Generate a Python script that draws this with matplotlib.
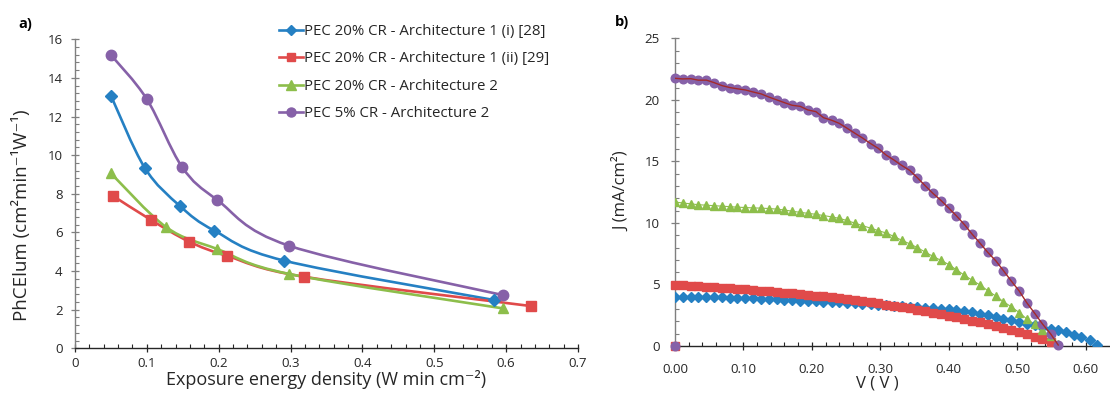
import numpy as np
import matplotlib
matplotlib.use("Agg")
import matplotlib.pyplot as plt
from matplotlib.path import Path
from matplotlib.patches import PathPatch
from matplotlib.lines import Line2D
from matplotlib.ticker import MultipleLocator, FormatStrFormatter

plt.rcParams['font.family'] = ['Open Sans', 'DejaVu Sans']

# ---------------- data: panel a ----------------
labels = ["PEC 20% CR - Architecture 1 (i) [28]",
          "PEC 20% CR - Architecture 1 (ii) [29]",
          "PEC 20% CR - Architecture 2",
          "PEC 5% CR - Architecture 2"]

x_blue = [0.050, 0.097, 0.146, 0.194, 0.291, 0.583]
y_blue = [13.08, 9.35, 7.37, 6.09, 4.54, 2.50]
x_red = [0.053, 0.106, 0.159, 0.212, 0.318, 0.634]
y_red = [7.89, 6.64, 5.52, 4.78, 3.71, 2.19]
x_green = [0.050, 0.127, 0.198, 0.298, 0.595]
y_green = [9.06, 6.27, 5.14, 3.85, 2.07]
x_purple = [0.050, 0.100, 0.149, 0.198, 0.298, 0.595]
y_purple = [15.19, 12.90, 9.39, 7.68, 5.31, 2.76]

# ---------------- data: panel b ----------------
V = [0.000, 0.011, 0.023, 0.034, 0.046, 0.057, 0.069, 0.080, 0.091, 0.103,
     0.114, 0.126, 0.137, 0.149, 0.160, 0.171, 0.183, 0.194, 0.206, 0.217,
     0.229, 0.240, 0.251, 0.263, 0.274, 0.286, 0.297, 0.309, 0.320, 0.331,
     0.343, 0.354, 0.366, 0.377, 0.389, 0.400, 0.411, 0.423, 0.434, 0.446,
     0.457, 0.469, 0.480, 0.491, 0.503, 0.514, 0.526, 0.537, 0.549, 0.560,
     0.571, 0.583, 0.594, 0.606, 0.617]

J_blue = [4.00, 4.00, 3.99, 3.98, 3.97, 3.96, 3.95, 3.93, 3.91, 3.89,
          3.87, 3.84, 3.81, 3.78, 3.75, 3.72, 3.69, 3.66, 3.63, 3.60,
          3.57, 3.54, 3.51, 3.48, 3.45, 3.41, 3.37, 3.33, 3.28, 3.24,
          3.20, 3.16, 3.11, 3.06, 3.02, 2.97, 2.90, 2.82, 2.73, 2.60,
          2.48, 2.35, 2.22, 2.08, 1.95, 1.82, 1.68, 1.55, 1.42, 1.30,
          1.12, 0.92, 0.70, 0.45, 0.10]

J_red = [4.95, 4.92, 4.88, 4.84, 4.80, 4.76, 4.72, 4.68, 4.64, 4.60,
         4.55, 4.50, 4.45, 4.40, 4.34, 4.28, 4.22, 4.16, 4.10, 4.03,
         3.96, 3.89, 3.81, 3.73, 3.65, 3.56, 3.47, 3.37, 3.27, 3.17,
         3.06, 2.95, 2.84, 2.72, 2.60, 2.47, 2.34, 2.20, 2.06, 1.92,
         1.77, 1.62, 1.46, 1.30, 1.13, 0.95, 0.76, 0.55, 0.30]

J_green = [11.70, 11.62, 11.55, 11.48, 11.44, 11.40, 11.36, 11.32, 11.28, 11.25,
           11.22, 11.20, 11.17, 11.12, 11.05, 10.95, 10.86, 10.78, 10.70, 10.60,
           10.49, 10.37, 10.20, 9.98, 9.78, 9.57, 9.38, 9.17, 8.90, 8.60,
           8.30, 8.00, 7.62, 7.28, 6.95, 6.62, 6.20, 5.75, 5.35, 4.95,
           4.50, 4.05, 3.60, 3.20, 2.72, 2.20, 1.75, 1.28, 0.78, 0.20]

J_purple = [21.75, 21.70, 21.72, 21.60, 21.60, 21.40, 21.15, 21.00, 20.90, 20.80,
            20.64, 20.48, 20.23, 19.99, 19.77, 19.56, 19.47, 19.18, 19.04, 18.55,
            18.34, 18.09, 17.71, 17.28, 16.90, 16.44, 16.06, 15.49, 15.11, 14.68,
            14.27, 13.68, 13.00, 12.40, 11.81, 11.21, 10.59, 9.86, 9.10, 8.34,
            7.61, 6.91, 6.12, 5.31, 4.47, 3.52, 2.63, 1.79, 0.98, 0.08]

C_BLUE = '#2580C3'
C_RED = '#E04A4A'
C_GREEN = '#8DBE4B'
C_PURPLE = '#8661A8'
C_DARKRED = '#A52A2A'
C_TEXT = '#262626'

W, H = 1110, 394
fig = plt.figure(figsize=(W / 100, H / 100), dpi=100)


def px_axes(x0, y_top, x1, y_bot):
    return fig.add_axes([x0 / W, (H - y_bot) / H, (x1 - x0) / W, (y_bot - y_top) / H])


def smooth_path(x, y):
    pts = np.column_stack([x, y]).astype(float)
    n = len(pts)
    verts = [pts[0]]
    codes = [Path.MOVETO]
    for i in range(n - 1):
        p0 = pts[max(i - 1, 0)]
        p1 = pts[i]
        p2 = pts[i + 1]
        p3 = pts[min(i + 2, n - 1)]
        c1 = p1 + (p2 - p0) / 6.0
        c2 = p2 - (p3 - p1) / 6.0
        verts += [c1, c2, p2]
        codes += [Path.CURVE4] * 3
    return Path(verts, codes)


def style_axes(ax):
    for s in ['top', 'right']:
        ax.spines[s].set_visible(False)
    ax.spines['left'].set_color('#7f7f7f')
    ax.spines['bottom'].set_color(C_TEXT)
    ax.spines['left'].set_linewidth(1.0)
    ax.spines['bottom'].set_linewidth(1.0)
    ax.tick_params(which='major', direction='inout', length=6, width=0.9,
                   labelsize=9.5, colors=C_TEXT)
    ax.tick_params(which='minor', direction='in', length=2.6, width=0.8, colors=C_TEXT)
    ax.tick_params(axis='y', which='both', color='#7f7f7f')


# ---------------- panel a ----------------
L_x0, L_x1, L_top, L_bot = 75, 578, 39.3, 348.3
axL = px_axes(L_x0, L_top, L_x1, L_bot)
axL.set_xlim(0, 0.7)
axL.set_ylim(0, 16)
style_axes(axL)
axL.xaxis.set_major_locator(MultipleLocator(0.1))
axL.xaxis.set_minor_locator(MultipleLocator(0.02))
axL.yaxis.set_major_locator(MultipleLocator(2))
axL.yaxis.set_minor_locator(MultipleLocator(0.4))
axL.xaxis.set_major_formatter(FormatStrFormatter('%g'))
axL.tick_params(axis='x', pad=3)
axL.tick_params(axis='y', pad=6)

series_a = [(x_blue, y_blue, C_BLUE, 'D', 6.0),
            (x_red, y_red, C_RED, 's', 7.0),
            (x_green, y_green, C_GREEN, '^', 7.5),
            (x_purple, y_purple, C_PURPLE, 'o', 7.5)]
handles = []
for (xs, ys, c, m, ms), lab in zip(series_a, labels):
    axL.add_patch(PathPatch(smooth_path(xs, ys), facecolor='none', edgecolor=c,
                            lw=1.9, transform=axL.transData, zorder=2))
    axL.plot(xs, ys, ls='none', marker=m, ms=ms, color=c, mec=c, zorder=3)
    handles.append(Line2D([], [], color=c, lw=1.9, marker=m, ms=ms - 1, mec=c))

leg = axL.legend(handles, labels, loc='upper left', bbox_to_anchor=(273 / W, 1 - 18 / H),
                 bbox_transform=fig.transFigure, frameon=False, fontsize=10.8,
                 handlelength=1.6, handletextpad=0.05, labelspacing=0.83, borderaxespad=0)
for t in leg.get_texts():
    t.set_color(C_TEXT)

axL.set_xlabel('Exposure energy density (W min cm⁻²)', fontsize=13, color=C_TEXT)
axL.set_ylabel('PhCElum (cm²min⁻¹W⁻¹)', fontsize=13.5, color=C_TEXT)
axL.xaxis.set_label_coords(0.5, -(370 - L_bot) / (L_bot - L_top))
axL.yaxis.set_label_coords(-(L_x0 - 31) / (L_x1 - L_x0), (L_bot - 215) / (L_bot - L_top))
fig.text(18 / W, 1 - 24 / H, 'a)', fontsize=10.5, fontweight='bold', va='center', ha='left',
         color='black')

# ---------------- panel b ----------------
xmaxR = 0.635
axR = px_axes(675, 38.3, 675 + xmaxR * 684.3, 346)
axR.set_xlim(0, xmaxR)
axR.set_ylim(0, 25)
style_axes(axR)
axR.xaxis.set_major_locator(MultipleLocator(0.1))
axR.xaxis.set_minor_locator(MultipleLocator(0.02))
axR.yaxis.set_major_locator(MultipleLocator(5))
axR.yaxis.set_minor_locator(MultipleLocator(1))
axR.xaxis.set_major_formatter(FormatStrFormatter('%.2f'))
axR.tick_params(axis='x', pad=9)
axR.tick_params(axis='y', pad=8)

nb, nr, ng, npu = len(J_blue), len(J_red), len(J_green), len(J_purple)
# lines
axR.plot([0] + V[:nb], [0] + J_blue, color=C_BLUE, lw=0.8, zorder=2)
axR.plot([0] + V[:ng], [0] + J_green, color=C_GREEN, lw=0.8, zorder=2)
axR.plot([0] + V[:nr], [0] + J_red, color=C_DARKRED, lw=1.0, zorder=2)
axR.plot(V[:npu], J_purple, color=C_DARKRED, lw=1.0, zorder=4)
# markers
axR.plot(V[:nb], J_blue, ls='none', marker='D', ms=5.0, color=C_BLUE, mec=C_BLUE, zorder=3)
axR.plot([0] + V[:nr], [0] + J_red, ls='none', marker='s', ms=6.0, color=C_RED, mec=C_RED,
         zorder=3, clip_on=False)
axR.plot(V[:ng], J_green, ls='none', marker='^', ms=6.2, color=C_GREEN, mec=C_GREEN, zorder=3)
axR.plot([0] + V[:npu], [0] + J_purple, ls='none', marker='o', ms=6.2, color=C_PURPLE,
         mec=C_PURPLE, zorder=3.5, clip_on=False)

axR.set_xlabel('V ( V )', fontsize=12, color=C_TEXT)
axR.set_ylabel('J (mA/cm²)', fontsize=12, color=C_TEXT)
axR.xaxis.set_label_coords((877 - 675) / (xmaxR * 684.3), -(375 - 346) / (346 - 38.3))
axR.yaxis.set_label_coords(-(675 - 630) / (xmaxR * 684.3), (346 - 191) / (346 - 38.3))
fig.text(615 / W, 1 - 22 / H, 'b)', fontsize=10.5, fontweight='bold', va='center', ha='left',
         color='black')

fig.savefig('out.png', dpi=100)
